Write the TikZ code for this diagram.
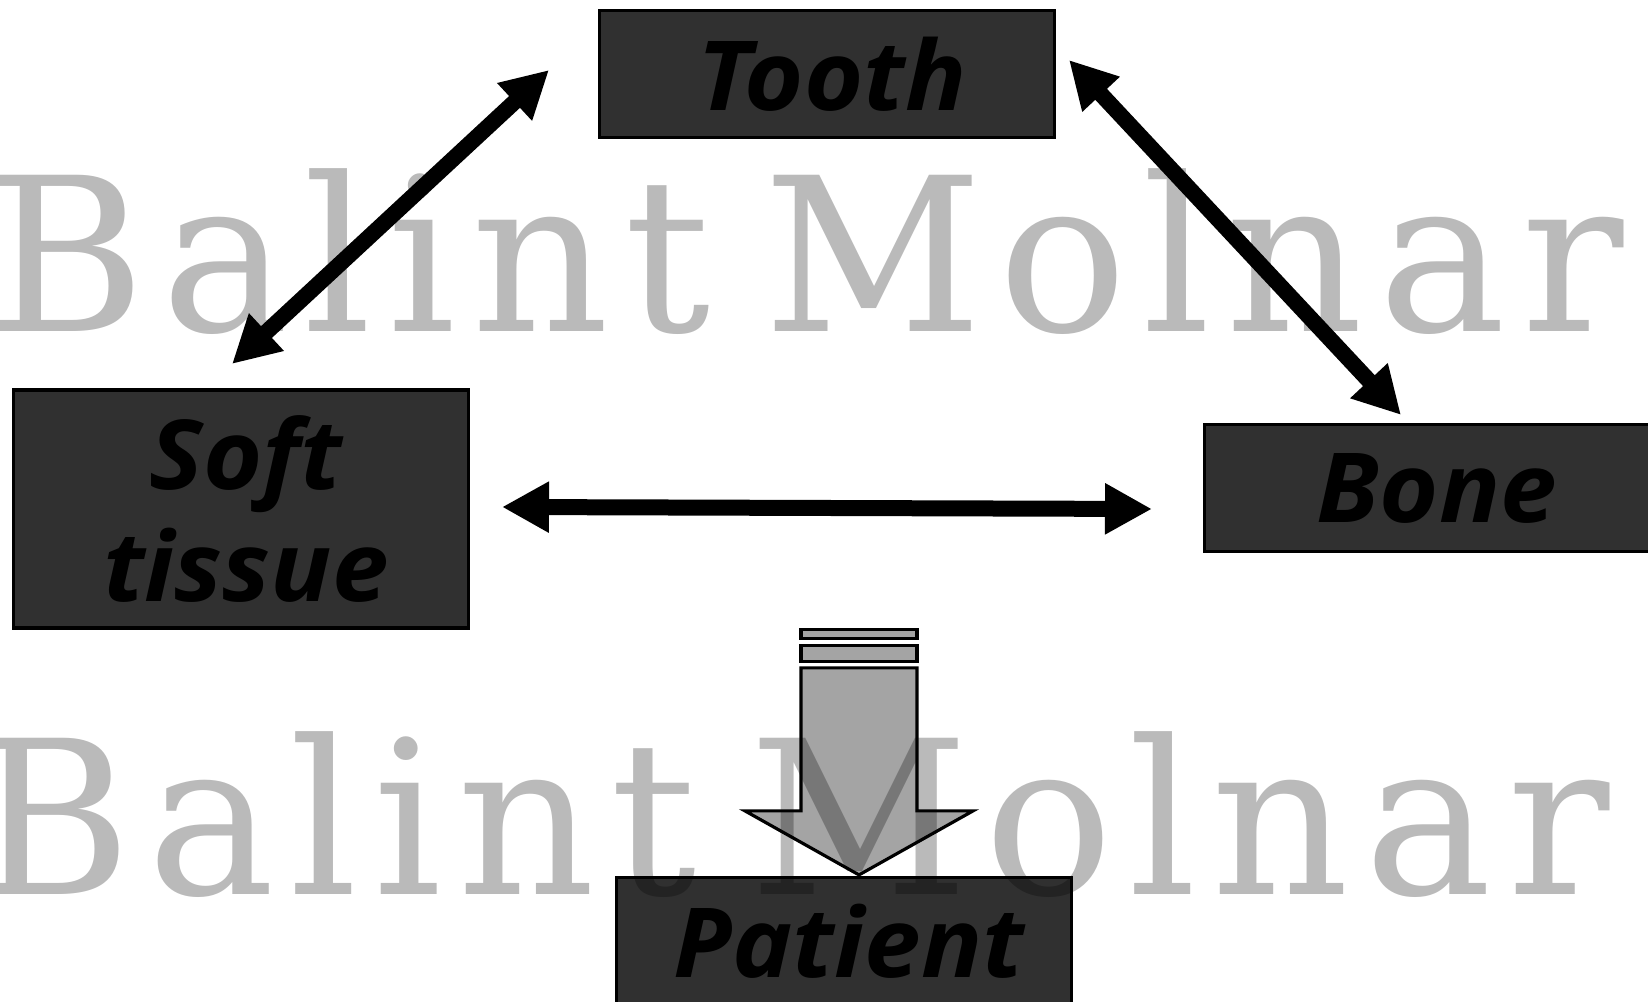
\documentclass[tikz,border=0pt]{standalone}
\usepackage{fontspec}
\setmainfont[FakeStretch=1.05]{Open Sans}
\newfontfamily\markfont[LetterSpace=7]{DejaVu Serif}
\usetikzlibrary{arrows.meta, calc}
\definecolor{boxgray}{RGB}{48, 48, 48}
\definecolor{shaftgray}{RGB}{164, 164, 164}

\begin{document}
\begin{tikzpicture}[
    part/.style={rectangle, draw=black, line width=0.9pt, fill=boxgray, minimum width=4.55cm, minimum height=1.27cm, inner sep=0pt, font=\fontsize{27.5}{32}\selectfont\bfseries\itshape, align=center},
    dblarr/.style={{Triangle[length=0.47cm, width=0.48cm]}-{Triangle[length=0.47cm, width=0.48cm]}, line width=0.16cm},
    downarr/.style={draw=black, line width=0.9pt, fill=shaftgray, line join=miter},
    wmark/.style={anchor=base west, inner sep=0pt, font=\fontsize{61}{61}\selectfont\markfont, text=black, text opacity=0.27},
]

\useasboundingbox (0,0) rectangle (16.48,10.02);

% the four parts
\node[part] (tooth) at (8.27, 9.28) {\hspace{0.1cm}Tooth};
\node[part, minimum height=2.38cm] (soft) at (2.41, 4.93) {\hspace{0.1cm}Soft\\\hspace{0.1cm}tissue};
\node[part] (bone) at (14.32, 5.14) {\hspace{0.1cm}Bone};
\node[part] (patient) at (8.44, 0.61) {\hspace{0.1cm}Patient};

% free ends of the double arrows
\coordinate (ts1) at (5.49, 9.32);
\coordinate (ts2) at (2.32, 6.38);
\coordinate (tb1) at (10.69, 9.42);
\coordinate (tb2) at (14.01, 5.87);
\coordinate (sb1) at (5.02, 4.95);
\coordinate (sb2) at (11.52, 4.93);

\draw[dblarr] (ts1) -- (ts2);
\draw[dblarr] (tb1) -- (tb2);
\draw[dblarr] (sb1) -- (sb2);

% block arrow down to the patient
\coordinate (ptip) at ($(patient.north)+(0.15,0.01)$);
\draw[downarr] ($(ptip)+(-0.58,2.45)$) rectangle ($(ptip)+(0.58,2.36)$);
\draw[downarr] ($(ptip)+(-0.58,2.29)$) rectangle ($(ptip)+(0.58,2.13)$);
\draw[downarr] (ptip) -- ++(-1.14,0.64) -- ++(0.56,0) -- ++(0,1.43)
    -- ++(1.16,0) -- ++(0,-1.43) -- ++(0.56,0) -- cycle;

% watermark
\node[wmark] (wm1) at (-0.12, 6.70) {Balint\hspace{-0.3cm} Molnar};
\node[wmark] (wm2) at (-0.26, 1.07) {Balint\hspace{-0.3cm} Molnar};

\end{tikzpicture}
\end{document}
